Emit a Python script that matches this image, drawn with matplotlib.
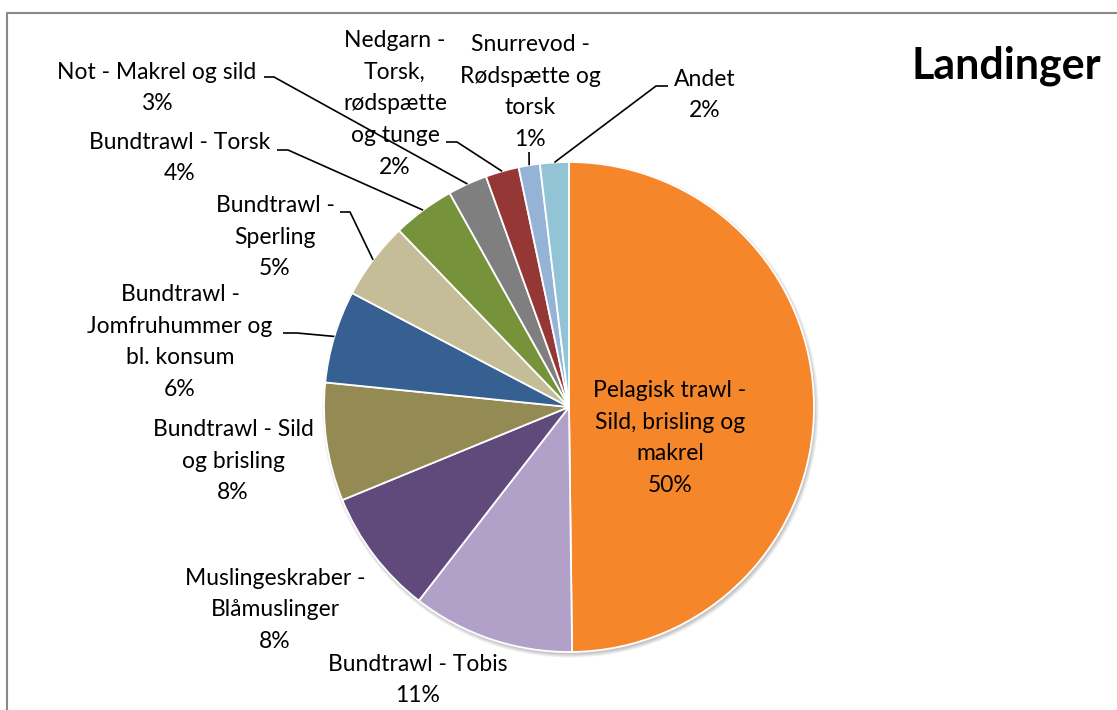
import matplotlib.pyplot as plt
from matplotlib.patches import Circle
import numpy as np

plt.rcParams['font.family'] = ['Lato', 'DejaVu Sans']

# data (clockwise from 12 o'clock)
names = ['Pelagisk trawl -\nSild, brisling og\nmakrel',
         'Bundtrawl - Tobis',
         'Muslingeskraber -\nBlåmuslinger',
         'Bundtrawl - Sild\nog brisling',
         'Bundtrawl -\nJomfruhummer og\nbl. konsum',
         'Bundtrawl -\nSperling',
         'Bundtrawl - Torsk',
         'Not - Makrel og sild',
         'Nedgarn -\nTorsk,\nrødspætte\nog tunge',
         'Snurrevod -\nRødspætte og\ntorsk',
         'Andet']
values = [49.8, 10.7, 8.3, 7.8, 6.1, 5.1, 4.1, 2.6, 2.2, 1.4, 1.9]
colors = ['#F5862A', '#B1A0C7', '#604A7B', '#948A54', '#376092', '#C4BD97',
          '#76933C', '#7F7F7F', '#953735', '#95B3D7', '#92C4D6']

W, H = 1117, 710
cx, cy, R = 569, H - 407, 245

# label centres (pixel coords from top) and leader start / elbow
label_pos = [(670, 438), (418, 680), (275, 610), (233, 461), (180, 342),
             (275, 237), (180, 158), (157, 88), (395, 104), (530, 92), (705, 95)]
leaders = [None, None, None, None, (283, 297, 333), (340, 350, 212),
           (277, 288, 150), (264, 274, 77), (446, 457, 142), (529, 529, 152),
           (668, 656, 86)]

fig = plt.figure(figsize=(W / 100, H / 100), dpi=100)
ax = fig.add_axes([0, 0, 1, 1])

# soft shadow
for i, a in enumerate([0.10, 0.10, 0.12, 0.15]):
    ax.add_patch(Circle((cx + 1.5, cy - 2.5), R + 3 - i, color='#777777',
                        alpha=a, lw=0, zorder=0))

wedges, _ = ax.pie(values, colors=colors, startangle=90, counterclock=False,
                   center=(cx, cy), radius=R,
                   wedgeprops=dict(edgecolor='white', linewidth=1.3))
ax.set_xlim(0, W)
ax.set_ylim(0, H)
ax.axis('off')

for w, name, v, (lx, ly), ld in zip(wedges, names, values, label_pos, leaders):
    ax.text(lx, H - ly, f'{name}\n{round(v)}%', ha='center', va='center',
            fontsize=16.5, linespacing=1.62, zorder=5)
    if ld is not None:
        mid = np.radians((w.theta1 + w.theta2) / 2)
        ex, ey = cx + R * np.cos(mid), cy + R * np.sin(mid)
        x0, x1, y0 = ld
        ax.plot([x0, x1, ex], [H - y0, H - y0, ey], color='black', lw=1.2,
                zorder=4, solid_capstyle='butt')

ax.text(1006, H - 66, 'Landinger', ha='center', va='center', fontsize=31,
        fontweight='bold')

# chart border (top and left edges visible)
ax.plot([7, 7, W], [0, H - 13, H - 13], color='#888888', lw=1.5, clip_on=False)

fig.savefig('out.png', dpi=100)
